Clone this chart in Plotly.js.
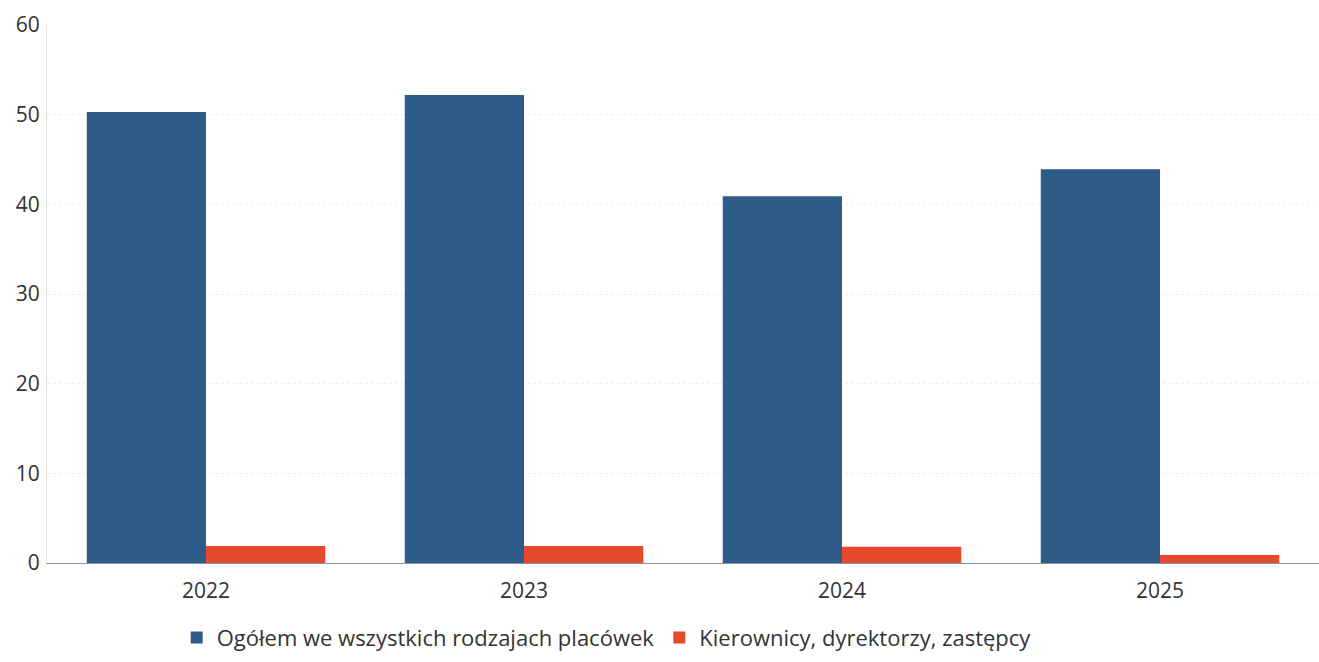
<!DOCTYPE html>
<html>
<head>
<meta charset="utf-8">
<script src="https://cdn.plot.ly/plotly-3.0.1.min.js"></script>
<style>html,body{margin:0;padding:0;background:#fff;}#chart{width:1319px;height:662px;}</style>
</head>
<body>
<div id="chart"></div>
<script>
const years = ["2022", "2023", "2024", "2025"];
const ogolem = [50.3, 52.2, 40.9, 43.9];
const kierownicy = [1.9, 1.9, 1.8, 0.9];
const seriesNames = ["Ogółem we wszystkich rodzajach placówek", "Kierownicy, dyrektorzy, zastępcy"];
const yTicks = [0, 10, 20, 30, 40, 50, 60];

const data = [
  {type: "bar", x: years, y: ogolem, name: seriesNames[0],
   marker: {color: "#2f5b88"}, hoverinfo: "x+y"},
  {type: "bar", x: years, y: kierownicy, name: seriesNames[1],
   marker: {color: "#e8482c"}, hoverinfo: "x+y"}
];

const layout = {
  width: 1319, height: 662,
  margin: {l: 47, r: 0, t: 25, b: 99},
  paper_bgcolor: "#fff", plot_bgcolor: "#fff",
  barmode: "group", bargap: 0.25, bargroupgap: 0,
  font: {family: "Open Sans, sans-serif", size: 21, color: "#333"},
  xaxis: {type: "category", showgrid: false, zeroline: false,
          showline: true, linecolor: "#8a96a8", linewidth: 1,
          ticks: "", tickfont: {size: 21, color: "#333"}, ticklabelstandoff: 9},
  yaxis: {range: [0, 60], tickvals: yTicks, ticktext: yTicks.map(String),
          showgrid: true, gridcolor: "#eeeeee", griddash: "dot", gridwidth: 1,
          zeroline: false, showline: true, linecolor: "#e6e6e6",
          ticks: "", tickfont: {size: 21, color: "#333"}, ticklabelstandoff: 2},
  showlegend: true,
  legend: {orientation: "h", x: 0.44, xanchor: "center", y: -0.1, yanchor: "top",
           font: {size: 22, color: "#333"}, itemwidth: 30, traceorder: "normal"}
};

Plotly.newPlot("chart", data, layout, {displayModeBar: false, staticPlot: true});
</script>
</body>
</html>
